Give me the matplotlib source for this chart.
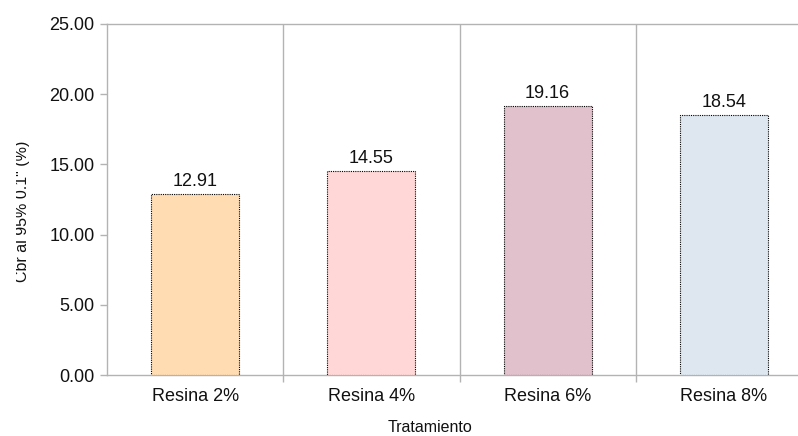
import matplotlib
matplotlib.use("Agg")
import matplotlib.pyplot as plt
from matplotlib.transforms import Bbox

plt.rcParams['font.family'] = ['Liberation Sans', 'DejaVu Sans']

categories = ["Resina 2%", "Resina 4%", "Resina 6%", "Resina 8%"]
values = [12.91, 14.55, 19.16, 18.54]
bar_colors = ["#FFDCB2", "#FFD7D7", "#E0C1CC", "#DEE6EF"]
y_ticks = [0, 5, 10, 15, 20, 25]
x_title = "Tratamiento"
y_title = 'Cbr al 95% 0.1" (%)'

W, H = 798, 436
fig = plt.figure(figsize=(W / 100, H / 100), dpi=100)
fig.patch.set_facecolor("white")

left, right, top, bottom = 107, 812, 24, 375
ax = fig.add_axes([left / W, 1 - bottom / H, (right - left) / W, (bottom - top) / H])

x = list(range(len(categories)))
ax.bar(x, values, width=0.5, color=bar_colors, edgecolor="black",
       linestyle=(0, (1, 1)), linewidth=0.8, zorder=3)

for xi, v in zip(x, values):
    ax.annotate(f"{v:.2f}", (xi, v), xytext=(0, 3), textcoords="offset points",
                ha="center", va="bottom", fontsize=13, color="#111111")

ax.set_xlim(-0.5, len(categories) - 0.5)
ax.set_ylim(0, 25)
ax.set_yticks(y_ticks)
ax.set_yticklabels([f"{t:.2f}" for t in y_ticks])
ax.set_xticks(x)
ax.set_xticklabels(categories)
ax.set_xticks([i + 0.5 for i in x[:-1]], minor=True)

grid_c = "#b3b3b3"
ax.grid(True, axis="x", which="minor", color=grid_c, linewidth=1.0, zorder=0)
ax.grid(False, axis="x", which="major")
ax.tick_params(axis="x", which="major", length=0, pad=9, labelsize=13, labelcolor="#111111")
ax.tick_params(axis="x", which="minor", length=5, color=grid_c, width=1.0)
ax.tick_params(axis="y", length=5, color=grid_c, width=1.0, pad=4, labelsize=13, labelcolor="#111111")

for s in ("left", "top", "bottom"):
    ax.spines[s].set_color(grid_c)
    ax.spines[s].set_linewidth(1.0)
ax.spines["right"].set_visible(False)

fig.text(430 / W, 1 - 427 / H, x_title, ha="center", va="center", fontsize=11.5, color="#111111")

yl = fig.text(27 / W, 1 - 211 / H, y_title, rotation=90, fontsize=11.5,
              color="#111111", rotation_mode="anchor")
yl.set_va("baseline")
yl.set_ha("center")
yl.set_clip_box(Bbox.from_extents(16, 0, W, H))
yl.set_clip_on(True)

fig.savefig("out.png", dpi=100, facecolor="white")
